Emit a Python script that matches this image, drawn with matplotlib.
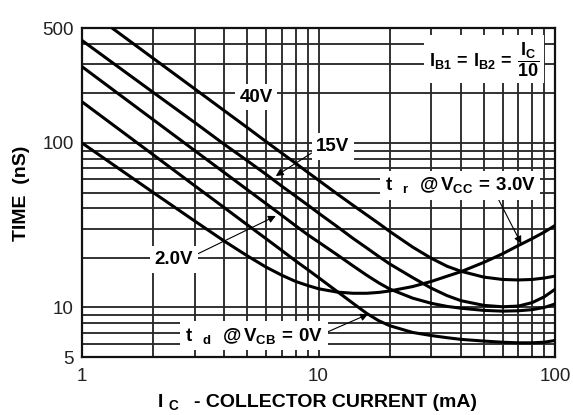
import matplotlib
matplotlib.use('Agg')
import matplotlib.pyplot as plt
from matplotlib import ticker

plt.rcParams['font.family'] = ['Liberation Sans', 'DejaVu Sans']
plt.rcParams['mathtext.fontset'] = 'custom'
plt.rcParams['mathtext.rm'] = 'Liberation Sans:bold'
plt.rcParams['mathtext.it'] = 'Liberation Sans:bold'
plt.rcParams['mathtext.bf'] = 'Liberation Sans:bold'
plt.rcParams['mathtext.sf'] = 'Liberation Sans:bold'
plt.rcParams['mathtext.default'] = 'rm'

# ---- data ----
# t_r @ Vcc = 40 V
e_ic = [1.34, 2, 3, 4, 5, 6, 7, 8, 9, 10, 12, 14, 16, 18, 20, 25, 30, 35, 40, 50, 60, 70, 80, 90, 100]
e_t = [500, 327, 213, 157, 124, 102, 86.7, 75.3, 66.4, 59.4, 49.0, 41.8, 36.5, 32.4, 29.0,
       23.3, 19.9, 17.8, 16.6, 15.3, 14.8, 14.7, 14.8, 15.1, 15.5]
# t_r @ Vcc = 15 V
a_ic = [1, 2, 3, 4, 5, 6, 7, 8, 9, 10, 12, 14, 16, 18, 20, 25, 30, 35, 40, 50, 60, 70, 80, 90, 100]
a_t = [420, 203, 133, 98, 78, 64.5, 54.6, 47.5, 42, 37.5, 31, 26.3, 23.0, 20.4, 18.4,
       15.2, 13.1, 11.8, 11.0, 10.3, 10.1, 10.2, 10.7, 11.6, 12.9]
# 2.0 V curve
b_ic = [1, 2, 3, 4, 5, 6, 7, 8, 9, 10, 12, 14, 16, 18, 20, 25, 30, 35, 40, 50, 60, 70, 80, 90, 100]
b_t = [291, 138.5, 89.8, 66.0, 52.0, 42.8, 36.3, 31.4, 27.7, 25.0, 20.9, 17.9, 15.7, 14.1, 12.95,
       11.4, 10.6, 10.15, 9.9, 9.6, 9.5, 9.55, 9.7, 10.0, 10.5]
# t_d @ Vcb = 0 V
c_ic = [1, 2, 3, 4, 5, 6, 7, 8, 9, 10, 12, 14, 16, 18, 20, 25, 30, 35, 40, 50, 60, 70, 80, 90, 100]
c_t = [178, 84.8, 54.9, 40.4, 31.8, 26.2, 22.2, 19.2, 17.0, 15.2, 12.5, 10.6, 9.2, 8.3, 7.75,
       7.05, 6.75, 6.55, 6.4, 6.25, 6.15, 6.1, 6.1, 6.15, 6.3]
# t_r @ Vcc = 3.0 V
d_ic = [1, 2, 3, 4, 5, 6, 7, 8, 9, 10, 12, 14, 16, 18, 20, 25, 30, 35, 40, 50, 60, 70, 80, 90, 100]
d_t = [100, 50, 33.5, 25.3, 20.6, 17.6, 15.7, 14.4, 13.6, 13.0, 12.4, 12.2, 12.2, 12.35, 12.6,
       13.4, 14.4, 15.5, 16.5, 18.8, 21.2, 23.8, 26.2, 28.7, 31.5]

x_ticks = [1, 10, 100]
x_tick_labels = ['1', '10', '100']
y_ticks = [5, 10, 100, 500]
y_tick_labels = ['5', '10', '100', '500']

fig = plt.figure(figsize=(5.73, 4.15), dpi=100)
ax = fig.add_axes([82 / 573, 1 - 357 / 415, (555 - 82) / 573, (357 - 28) / 415])

ax.set_xscale('log')
ax.set_yscale('log')
ax.set_xlim(1, 100)
ax.set_ylim(5, 500)

ax.xaxis.set_major_locator(ticker.FixedLocator(x_ticks))
ax.xaxis.set_major_formatter(ticker.FixedFormatter(x_tick_labels))
ax.yaxis.set_major_locator(ticker.FixedLocator(y_ticks))
ax.yaxis.set_major_formatter(ticker.FixedFormatter(y_tick_labels))
ax.xaxis.set_minor_locator(ticker.LogLocator(base=10, subs=range(2, 10), numticks=20))
ax.yaxis.set_minor_locator(ticker.LogLocator(base=10, subs=range(1, 10), numticks=20))
ax.xaxis.set_minor_formatter(ticker.NullFormatter())
ax.yaxis.set_minor_formatter(ticker.NullFormatter())

ax.tick_params(which='both', length=0)
ax.tick_params(axis='x', which='major', pad=8, labelsize=13.5, colors='#222222')
ax.tick_params(axis='y', which='major', pad=6, labelsize=13.5, colors='#222222')
for lbl in ax.get_yticklabels():
    lbl.set_verticalalignment('top')
    lbl.set_y(0)
ax.yaxis.set_tick_params(which='major')
for lbl in ax.yaxis.get_majorticklabels():
    lbl.set_va('center_baseline')

ax.grid(which='both', color='#2a2a2a', linewidth=1.35, zorder=1)
ax.set_axisbelow(True)
for s in ax.spines.values():
    s.set_linewidth(1.6)
    s.set_color('#111111')

for xs, ys in [(e_ic, e_t), (a_ic, a_t), (b_ic, b_t), (c_ic, c_t), (d_ic, d_t)]:
    ax.plot(xs, ys, color='black', linewidth=2.2, zorder=5, solid_capstyle='round',
            solid_joinstyle='round')

box = dict(boxstyle='square,pad=0.25', facecolor='white', edgecolor='none')
arrow = dict(arrowstyle='-|>', color='black', lw=0.8, mutation_scale=11, shrinkA=0, shrinkB=0)

ax.text(5.44, 190, '40V', fontsize=13.5, fontweight='bold', ha='center', va='center',
        bbox=box, zorder=4)

ax.annotate('15V', xy=(6.6, 63), xytext=(11.5, 95), fontsize=13.5, fontweight='bold',
            ha='center', va='center', bbox=box, zorder=4,
            arrowprops=dict(arrow, relpos=(0.0, 0.3)))

ax.annotate('2.0V', xy=(6.6, 36), xytext=(2.45, 19.6), fontsize=13.5, fontweight='bold',
            ha='center', va='center', bbox=box, zorder=4,
            arrowprops=dict(arrow, relpos=(1.0, 0.7)))

ax.annotate(r'$\mathrm{t}\ \ {}_{\mathrm{r}}\ \ \mathrm{@\,V_{CC}\,=\,3.0V}$', xy=(72, 24.4),
            xytext=(39.7, 55.3), fontsize=13.5, ha='center', va='center', bbox=box, zorder=4,
            arrowprops=dict(arrow, relpos=(0.74, 0.0)))

ax.annotate(r'$\mathrm{t}\ \ {}_{\mathrm{d}}\ \ \mathrm{@\,V_{CB}\,=\,0V}$', xy=(16.2, 9.1),
            xytext=(5.34, 6.73), fontsize=13.5, ha='center', va='center', bbox=box, zorder=4,
            arrowprops=dict(arrow, relpos=(1.0, 0.6)))

ax.text(0.85, 0.905, r'$\mathrm{I_{B1}\,=\,I_{B2}\,=\,\dfrac{I_C}{10}}$', transform=ax.transAxes,
        fontsize=13, ha='center', va='center', zorder=4,
        bbox=dict(boxstyle='square,pad=0.25', facecolor='white', edgecolor='none'))

fig.text(157 / 573, 1 - 407 / 415, r'$\mathrm{I}\ {}_{\mathrm{C}}$',
         fontsize=14, ha='left', va='baseline')
fig.text(194 / 573, 1 - 407 / 415, '- COLLECTOR CURRENT (mA)',
         fontsize=14, fontweight='bold', ha='left', va='baseline')
fig.text(22 / 573, 1 - 193 / 415, 'TIME  (nS)', fontsize=14, fontweight='bold',
         rotation=90, ha='center', va='center')

fig.savefig('out.png', dpi=100, facecolor='white')
